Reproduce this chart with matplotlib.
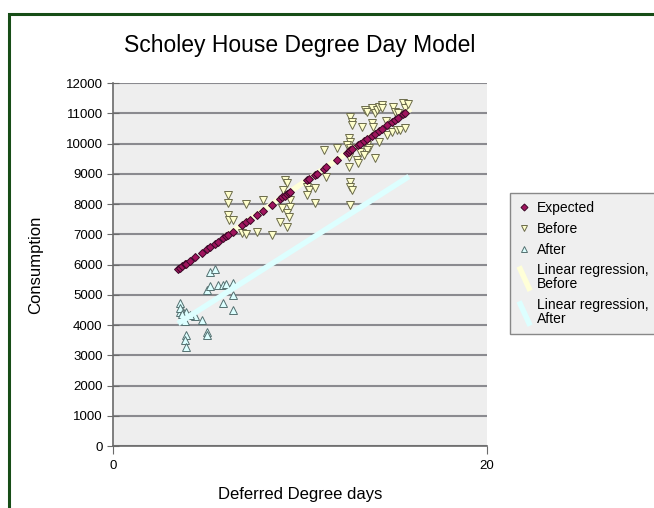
import numpy as np
import matplotlib
matplotlib.use("Agg")
import matplotlib.pyplot as plt
from matplotlib.lines import Line2D
from matplotlib.patches import Rectangle
from matplotlib.legend_handler import HandlerBase

plt.rcParams['font.family'] = ['Liberation Sans', 'DejaVu Sans']

# --- data ---
before_x = [6.15, 6.15, 6.15, 6.2, 6.4, 6.9, 7.1, 7.1, 7.7, 8.0, 8.5,
            9.2, 9.3, 9.1, 9.35, 9.45, 9.05, 9.45, 9.3, 8.95, 9.3, 9.4,
            10.4, 10.5, 10.8, 10.4, 10.8, 11.4, 11.3, 12.0,
            12.7, 12.8, 12.8, 12.6, 12.7, 12.5, 12.7, 12.6, 12.6,
            13.05, 13.1, 14.0, 12.7, 12.7, 12.8, 12.7, 13.6, 13.7, 13.6,
            13.5, 13.6, 13.85, 14.0, 14.1, 14.2, 14.4, 14.4, 13.85, 13.9,
            15.0, 15.1, 15.5, 15.6, 15.25, 14.65, 14.9, 15.2, 15.35, 15.6,
            14.2, 13.2, 13.4, 13.3, 14.6, 15.8]
before_y = [8300, 8030, 7640, 7470, 7470, 7040, 7000, 8000, 7070, 8130, 6975,
            8790, 8690, 8460, 8300, 8130, 7870, 7900, 7700, 7400, 7240, 7570,
            8560, 8460, 8530, 8300, 8030, 8890, 9790, 9850,
            10880, 10710, 10610, 10180, 10050, 9950, 9850, 9550, 9220,
            9450, 9350, 9520, 8730, 8560, 8460, 7970, 9950, 9850, 9790,
            11100, 11040, 11170, 11000, 11100, 11200, 11270, 11170, 10680, 10545,
            11200, 11040, 11340, 11170, 11000, 10280, 10380, 10450, 10450, 10510,
            10050, 9720, 9620, 10545, 10750, 11300]

after_x = [5.2, 5.45, 5.0, 5.6, 5.9, 6.05, 6.4, 5.9, 6.4, 6.4, 3.6, 3.6,
           3.75, 3.9, 3.7, 3.85, 4.4, 4.75, 5.0, 5.0, 3.9, 3.85, 3.9, 3.6,
           4.1, 5.2, 3.7]
after_y = [5750, 5850, 5160, 5320, 5320, 5350, 5390, 4730, 4990, 4500, 4730, 4430,
           4430, 4430, 4170, 4140, 4300, 4170, 3770, 3670, 3670, 3500, 3270, 4560,
           4330, 5300, 4350]

expected_x = [3.5, 3.6, 3.7, 3.85, 3.9, 4.1, 4.4, 4.75, 5.0, 5.2, 5.45, 5.6,
              5.9, 6.05, 6.15, 6.4, 6.9, 7.1, 7.3, 7.7, 8.0, 8.5, 8.95, 9.05,
              9.2, 9.3, 9.4, 9.45, 10.4, 10.5, 10.8, 10.9, 11.3, 11.4, 12.0,
              12.5, 12.6, 12.7, 12.8, 13.1, 13.2, 13.4, 13.6, 13.85, 14.0,
              14.2, 14.4, 14.65, 14.9, 15.1, 15.25, 15.5, 15.6]
expected_y = [5860, 5900, 5940, 6010, 6030, 6110, 6240, 6390, 6500, 6580, 6690, 6750,
              6880, 6940, 6980, 7090, 7300, 7390, 7470, 7640, 7770, 7980, 8170, 8220,
              8280, 8320, 8370, 8390, 8790, 8830, 8960, 9000, 9170, 9220, 9470,
              9680, 9730, 9770, 9810, 9940, 9980, 10070, 10150, 10260, 10320,
              10400, 10490, 10600, 10700, 10790, 10850, 10960, 11000]

reg_before_x = [6.1, 15.8]
reg_before_y = [6980, 11090]
reg_after_x = [3.6, 15.7]
reg_after_y = [4100, 8860]

y_ticks = list(range(0, 12001, 1000))
x_ticks = [0, 20]


class DiagHandler(HandlerBase):
    # diagonal line handle, like the spreadsheet legend
    def create_artists(self, legend, orig_handle, xdescent, ydescent,
                       width, height, fontsize, trans):
        ln = Line2D([-xdescent + 1, -xdescent + width],
                    [-ydescent + height * 1.7, -ydescent - height * 0.8],
                    color=orig_handle.get_color(), lw=orig_handle.get_linewidth(),
                    solid_capstyle='butt')
        ln.set_transform(trans)
        return [ln]


fig = plt.figure(figsize=(6.54, 5.08), dpi=100)
ax = fig.add_axes([0.1728, 0.122, 0.5718, 0.7146])
ax.set_facecolor('#eeeeee')

# frame around the whole chart
fig.patches.append(Rectangle((9 / 654, -0.1), 1.2, 1.1 - 14 / 508,
                             transform=fig.transFigure, fill=False,
                             edgecolor='#174d17', lw=2.2))

ax.plot(reg_before_x, reg_before_y, color='#ffffd8', lw=4, zorder=2,
        label='Linear regression,\nBefore')
ax.plot(expected_x, expected_y, 'D', ms=4.2, mfc='#a0145e', mec='#3a0826',
        mew=0.7, zorder=6, label='Expected')
ax.plot(before_x, before_y, 'v', ms=5.8, mfc='#ffffcc', mec='#6b6b4b',
        mew=0.7, zorder=4, label='Before')
ax.plot(after_x, after_y, '^', ms=5.8, mfc='#dcffff', mec='#557070',
        mew=0.7, zorder=4, label='After')
ax.plot(reg_after_x, reg_after_y, color='#ddffff', lw=4, zorder=5,
        label='Linear regression,\nAfter')

ax.set_xlim(0, 20)
ax.set_ylim(0, 12000)
ax.set_yticks(y_ticks)
ax.set_xticks(x_ticks)
ax.grid(axis='y', color='#8a8a8f', lw=1.5)
ax.set_axisbelow(True)
for s in ['top', 'right']:
    ax.spines[s].set_visible(False)
for s in ['left', 'bottom']:
    ax.spines[s].set_color('#6a6a6a')
    ax.spines[s].set_linewidth(1.2)
ax.tick_params(axis='y', direction='inout', length=9, color='#6a6a6a',
               labelsize=9.5, pad=3)
ax.tick_params(axis='x', direction='out', length=6, color='#6a6a6a',
               labelsize=9.5, pad=4)

ax.set_ylabel('Consumption', fontsize=12, labelpad=16)
ax.set_xlabel('Deferred Degree days', fontsize=12, labelpad=11)
fig.text(0.458, 0.911, 'Scholey House Degree Day Model', fontsize=16.5,
         ha='center', va='center')

handles, labels = ax.get_legend_handles_labels()
order = [1, 2, 3, 0, 4]
leg = fig.legend([handles[i] for i in order], [labels[i] for i in order],
                 loc='upper left', bbox_to_anchor=(510 / 654, 1 - 193 / 508),
                 fontsize=10, frameon=True, fancybox=False, edgecolor='#888888',
                 facecolor='#efefef', framealpha=1, handlelength=0.9,
                 handletextpad=0.5, labelspacing=0.5, borderpad=0.55,
                 borderaxespad=0, markerscale=0.85,
                 handler_map={handles[0]: DiagHandler(), handles[4]: DiagHandler()})
for t in leg.get_texts():
    t.set_linespacing(1.0)
leg.get_frame().set_linewidth(1.0)

fig.savefig('out.png', dpi=100)
